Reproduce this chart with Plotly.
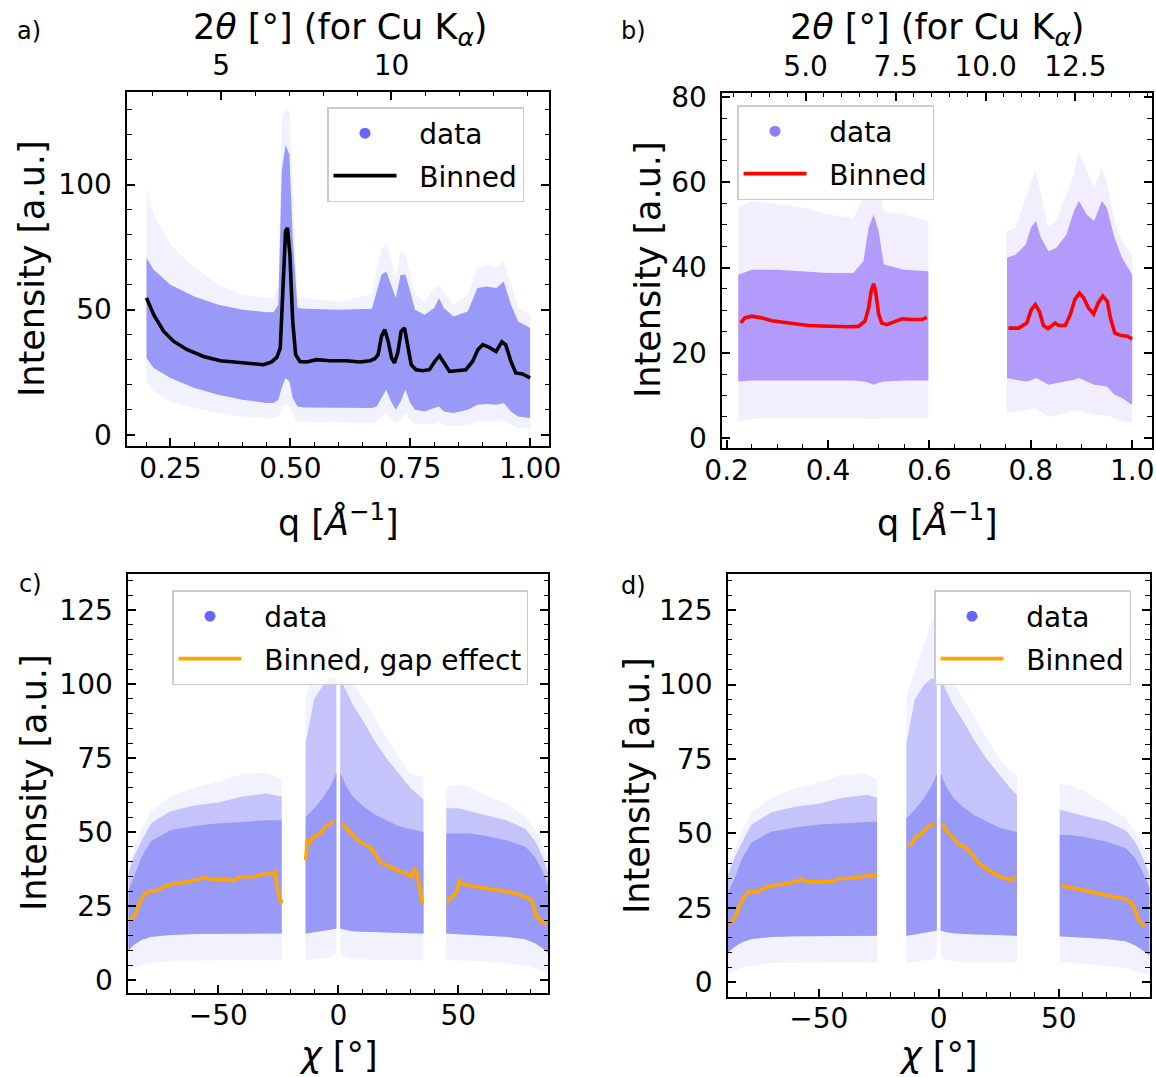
import numpy as np
import plotly.graph_objects as go

# ---------------- data ----------------
# Panel a: cloud envelopes
a_q = [0.200, 0.215, 0.25, 0.30, 0.35, 0.40, 0.45, 0.465, 0.475, 0.482, 0.490, 0.498, 0.505, 0.515, 0.53,
       0.60, 0.67, 0.68, 0.69, 0.70, 0.71, 0.72, 0.73, 0.74, 0.75, 0.76, 0.78, 0.80, 0.81, 0.82, 0.84,
       0.87, 0.89, 0.91, 0.93, 0.945, 0.96, 0.975, 1.0]
a_core_hi = [70.7, 66, 60, 55.3, 52, 50, 49, 49, 52, 105, 116, 112, 78.7, 50.7, 50.4, 50, 50.4, 57.3, 64,
             65.3, 60, 54.7, 64, 64, 57.3, 50, 48, 50.7, 54.7, 50.7, 47.3, 49.3, 58.7, 59.3, 58.7, 61.3,
             52, 45.3, 42.7]
a_halo_hi = [98.7, 88, 76, 66.7, 60, 56, 54.7, 54.7, 60, 125, 130.7, 129, 100, 54.7, 54.7, 53.3, 56, 66.7,
             74.7, 76, 70.7, 62.7, 73.3, 72, 64, 56, 53.3, 58.7, 60, 57.3, 52, 56, 66.7, 68, 66.7, 69.3,
             60, 50.7, 48]
a_core_lo = [30.7, 26.7, 22.7, 18.7, 16, 14, 12.7, 12.7, 14, 18.7, 22.7, 21.3, 14.7, 11.3, 10.9, 10.7,
             10.7, 11.3, 14.7, 18, 13.3, 10, 13.3, 18, 12.7, 10, 9.3, 10.7, 11.3, 9.3, 8.7, 10, 12, 12.3,
             12, 12.7, 9.3, 7.3, 6.7]
a_halo_lo = [21.3, 17.3, 13.3, 10.7, 8.7, 7.3, 6.7, 6.7, 7.3, 10.7, 12, 11.3, 8, 5.3, 5.3, 4.9, 4.7, 5.3,
             7.3, 8.7, 6.7, 4.7, 6, 8.7, 6, 4.3, 4, 4.7, 5.3, 4, 3.3, 4, 5.3, 5.6, 5.3, 6, 4, 2.7, 2.4]
# Panel a: binned curve
a_bin_q = [0.200, 0.215, 0.236, 0.257, 0.285, 0.319, 0.354, 0.389, 0.423, 0.444, 0.461, 0.472, 0.479,
           0.485, 0.490, 0.494, 0.499, 0.505, 0.511, 0.520, 0.534, 0.555, 0.582, 0.617, 0.645, 0.666,
           0.676, 0.683, 0.690, 0.697, 0.704, 0.711, 0.717, 0.724, 0.731, 0.738, 0.745, 0.752, 0.762,
           0.776, 0.790, 0.801, 0.811, 0.821, 0.832, 0.846, 0.866, 0.880, 0.891, 0.901, 0.915, 0.929,
           0.941, 0.949, 0.960, 0.970, 0.984, 1.000]
a_bin_I = [54.7, 48, 41.3, 37.3, 34, 31.3, 29.6, 29.1, 28.3, 28, 29.1, 31, 34.7, 58.7, 81.3, 82.7, 72,
           45.3, 32, 29.3, 29.1, 30, 29.6, 29.6, 29.1, 29.6, 30.4, 32, 39.3, 42, 37.3, 30.7, 28.7, 32.7,
           41.3, 42.7, 36, 28, 26, 25.6, 26, 29.3, 31.6, 28.7, 25.3, 25.6, 26, 29.3, 34, 36, 34.9, 33.3,
           37.1, 36, 29.3, 24.7, 24.3, 22.7]

# Panel b: cloud envelopes (two detector segments)
b_q1 = [0.223, 0.25, 0.30, 0.35, 0.40, 0.45, 0.47, 0.48, 0.49, 0.50, 0.51, 0.55, 0.598]
b_core_hi1 = [38.3, 39.5, 39.5, 39.1, 38.7, 38.7, 41.5, 49.3, 52.4, 48.5, 40.7, 39.5, 39.1]
b_halo_hi1 = [54, 55.6, 54.8, 54, 52.4, 51.6, 56.3, 60.3, 61, 59.5, 53.2, 52.4, 50.9]
b_core_lo1 = [13.3, 13.5, 13.5, 13.5, 13.5, 13.5, 13.3, 13, 12.5, 13, 13.3, 13.5, 13.5]
b_halo_lo1 = [3.9, 4.5, 4.7, 4.7, 4.7, 4.7, 4.7, 4.5, 4.5, 4.5, 4.7, 4.7, 4.7]
b_q2 = [0.753, 0.77, 0.79, 0.80, 0.81, 0.82, 0.835, 0.85, 0.87, 0.885, 0.895, 0.91, 0.925, 0.94, 0.95,
        0.965, 0.98, 1.0]
b_core_hi2 = [42.3, 43, 45.4, 49.3, 50.9, 47, 43.8, 44.6, 47.7, 53.2, 55.6, 52.4, 50.9, 55.6, 54, 47,
              42.3, 38.3]
b_halo_hi2 = [48.5, 49.3, 56.3, 60.3, 62.6, 57.1, 49.3, 50.9, 57.1, 61.8, 67.3, 62.6, 58.7, 63.4, 60.3,
              50.9, 46.2, 43]
b_core_lo2 = [14.1, 13.7, 13.3, 13.5, 14.1, 13.5, 12.5, 12.8, 13.3, 13.7, 14.1, 13.3, 12.5, 12.3, 12.1,
              10.2, 9.4, 7.8]
b_halo_lo2 = [5.9, 6.2, 6.5, 6.8, 7, 6.3, 5.1, 5.3, 5.9, 6.3, 6.5, 5.9, 5.5, 5.5, 5.3, 4.7, 3.9, 3.5]
# Panel b: binned curve
b_bin_q1 = [0.228, 0.236, 0.249, 0.269, 0.289, 0.309, 0.335, 0.361, 0.388, 0.414, 0.440, 0.460, 0.473,
            0.480, 0.485, 0.490, 0.494, 0.500, 0.506, 0.516, 0.532, 0.546, 0.565, 0.585, 0.595]
b_bin_I1 = [27, 28.2, 28.6, 28.2, 27.5, 27.2, 26.8, 26.4, 26.3, 26.1, 26.1, 26.2, 27.4, 30.5, 34.4, 36.2,
            34.4, 29, 27, 26.6, 27.4, 28, 27.8, 27.8, 28.3]
b_bin_q2 = [0.756, 0.776, 0.792, 0.801, 0.809, 0.817, 0.825, 0.834, 0.842, 0.848, 0.855, 0.868, 0.878,
            0.887, 0.896, 0.904, 0.914, 0.924, 0.933, 0.942, 0.951, 0.957, 0.966, 0.977, 0.990, 1.000]
b_bin_I2 = [25.8, 25.8, 27, 30.1, 31.3, 29.7, 26.4, 25.7, 26.4, 27, 26.4, 26.4, 29, 32.5, 34, 32.9, 30.5,
            29.1, 31.7, 33.3, 32.1, 28.2, 24.6, 24.1, 23.9, 23.3]

# Panel c: cloud envelopes (four chi segments)
c_chi_L = [-87.5, -85, -82, -78, -70, -60, -50, -40, -30, -23.6]
c_core_hi_L = [30, 35, 41.6, 47, 50.6, 52, 53, 53.4, 54, 54]
c_mid_hi_L = [36, 42, 47, 53, 57, 59, 60, 62, 63, 62]
c_halo_hi_L = [38, 45, 51, 57, 62, 65, 67, 69.7, 70, 68]
c_core_lo_L = [10, 12, 13.5, 14.6, 15.2, 15.5, 15.7, 15.7, 15.7, 15.7]
c_halo_lo_L = [3, 4, 5, 5.6, 6.5, 6.7, 6.7, 6.7, 6.7, 6.7]
c_chi_CL = [-13.6, -10, -6, -3, -0.8]
c_core_hi_CL = [55, 58, 62, 66, 70]
c_mid_hi_CL = [80, 95, 100, 102, 102]
c_halo_hi_CL = [95.6, 104.6, 113.6, 121.5, 123.7]
c_core_lo_CL = [15.7, 16.2, 16.7, 17.1, 17.4]
c_halo_lo_CL = [6.7, 6.9, 7.2, 7.6, 9]
c_chi_CR = [0.8, 3, 6, 10, 15, 20, 25, 30, 35.5]
c_core_hi_CR = [70, 66, 62, 59, 56, 54, 52, 51, 50]
c_mid_hi_CR = [102, 98, 93, 88, 81, 75, 70, 65, 61]
c_halo_hi_CR = [121.5, 110, 101, 95.6, 88.9, 82.1, 75.4, 69.7, 68.6]
c_core_lo_CR = [17.4, 16.9, 16.5, 16.3, 16.1, 16, 15.9, 15.8, 15.7]
c_halo_lo_CR = [9, 7.6, 7.2, 6.9, 6.8, 6.7, 6.7, 6.7, 6.7]
c_chi_R = [45, 50, 55, 60, 70, 78, 82, 85, 87.5]
c_core_hi_R = [49.5, 49.5, 49.5, 48.9, 47.2, 45, 41.6, 37.1, 31.5]
c_mid_hi_R = [58, 58, 57, 56, 54, 51, 47, 42, 36]
c_halo_hi_R = [65.2, 66, 65.2, 63, 59.6, 55.1, 50.6, 46.1, 40.5]
c_core_lo_R = [15.7, 15.5, 15.2, 15, 14.6, 13.8, 12.4, 10.8, 9]
c_halo_lo_R = [6.7, 6.7, 6.5, 6.3, 5.6, 4.8, 3.9, 3, 2.2]
# Panel c: binned curve with gap effect
c_bin_chi1 = [-86.8, -84.7, -82.6, -80.6, -78.5, -75.7, -72.9, -68.75, -63.2, -57.6, -56.25, -52.1, -46.5,
              -43.75, -40.97, -35.4, -31.25, -27.8, -26.4, -25.4, -23.6]
c_bin_I1 = [20.2, 21.9, 26.4, 29.2, 30.1, 30.1, 31.5, 32.4, 33.2, 34, 34.6, 34, 34, 33.5, 34.9, 34.9, 35.8,
            35.8, 36.6, 30.4, 25.9]
c_bin_chi2 = [-13.6, -12.9, -11.5, -10.4, -9.0, -7.6, -6.0, -4.6, -3.2, -2.1]
c_bin_I2 = [40.5, 47.2, 46.7, 48.4, 48.9, 49.5, 51.2, 52.3, 52.9, 53.8]
c_bin_chi3 = [1.8, 3.5, 5.6, 7.6, 10.4, 13.2, 15.3, 17.4, 20.1, 22.9, 25.7, 28.5, 30.6, 31.9, 32.9, 34.0, 35.1]
c_bin_I3 = [53.1, 51.2, 49.5, 47.5, 46.1, 44.8, 42.7, 39.9, 38.8, 37.7, 36.6, 36, 34.9, 37.7, 35.4, 30.4, 25.9]
c_bin_chi4 = [45.4, 47.2, 49.3, 50.4, 52.1, 56.25, 61.8, 67.4, 72.9, 77.1, 80.6, 82.6, 84.7, 86.5]
c_bin_I4 = [26.4, 28.1, 29.8, 33.5, 32.4, 31.7, 30.9, 30.1, 29.5, 28.3, 27, 21.4, 19.7, 18.6]

# Panel d: cloud envelopes
d_chi_L = [-87.8, -85, -82, -78, -70, -60, -50, -40, -30, -25.7]
d_core_hi_L = [30, 35, 41.6, 47, 50.6, 52, 53, 53.4, 54, 54]
d_mid_hi_L = [36, 42, 47, 53, 57, 59, 60, 62, 63, 62]
d_halo_hi_L = [38, 45, 51, 57, 62, 65, 67, 69.7, 70, 68]
d_core_lo_L = [10, 12, 13.5, 14.6, 15.2, 15.5, 15.7, 15.7, 15.7, 15.7]
d_halo_lo_L = [3, 4, 5, 5.6, 6.5, 6.7, 6.7, 6.7, 6.7, 6.7]
d_chi_CL = [-13.5, -10, -6, -3, -0.8]
d_core_hi_CL = [55, 58, 62, 66, 70]
d_mid_hi_CL = [80, 95, 100, 102, 102]
d_halo_hi_CL = [95.6, 104.6, 113.6, 121.5, 125]
d_core_lo_CL = [15.7, 16.2, 16.7, 17.1, 17.4]
d_halo_lo_CL = [6.7, 6.9, 7.2, 7.6, 9]
d_chi_CR = [0.8, 3, 6, 10, 15, 20, 25, 30, 32.6]
d_core_hi_CR = [70, 66, 62, 59, 56, 54, 52, 51, 50.5]
d_mid_hi_CR = [102, 98, 93, 88, 81, 75, 70, 65, 63]
d_halo_hi_CR = [125, 110, 101, 95.6, 88.9, 82.1, 75.4, 71, 70]
d_core_lo_CR = [17.4, 16.9, 16.5, 16.3, 16.1, 16, 15.9, 15.8, 15.7]
d_halo_lo_CR = [9, 7.6, 7.2, 6.9, 6.8, 6.7, 6.7, 6.7, 6.7]
d_chi_R = [50.4, 55, 60, 65, 70, 78, 82, 85, 87.8]
d_core_hi_R = [49.5, 49.5, 48.9, 48, 47.2, 45, 41.6, 37.1, 31.5]
d_mid_hi_R = [58, 57, 56, 55, 54, 51, 47, 42, 36]
d_halo_hi_R = [66.8, 66, 64.5, 62, 59.6, 55.1, 50.6, 46.1, 40]
d_core_lo_R = [15.5, 15.2, 15, 14.8, 14.6, 13.8, 12.4, 10.8, 9]
d_halo_lo_R = [6.7, 6.5, 6.3, 6, 5.6, 4.8, 3.9, 3, 2.2]
# Panel d: binned curve
d_bin_chi1 = [-87.2, -84.7, -82.6, -80.6, -79.2, -75.7, -72.2, -68.1, -62.5, -56.9, -54.9, -48.6, -43.1,
              -41.7, -37.5, -31.9, -27.8, -25.7]
d_bin_I1 = [19.8, 22, 26.5, 29.3, 30.4, 30.4, 31.9, 32.7, 33.2, 34.6, 33.8, 33.8, 34.1, 34.9, 34.9, 35.7,
            36, 35.5]
d_bin_chi2 = [-13.2, -11.1, -9.7, -7.6, -6.25, -4.9, -3.1, -2.1]
d_bin_I2 = [46.1, 46.4, 48.9, 49.4, 50.6, 52.2, 52.8, 53.4]
d_bin_chi3 = [1.7, 3.5, 5.6, 8.3, 11.8, 14.6, 17.4, 20.8, 24.3, 27.8, 30.6, 31.9]
d_bin_I3 = [53.1, 50.6, 48.9, 46.4, 45, 42.2, 39.4, 37.7, 36, 34.9, 34.3, 35.7]
d_bin_chi4 = [51.1, 54.2, 59.7, 65.3, 70.8, 76.4, 79.9, 81.9, 83.3, 86.1]
d_bin_I4 = [32.7, 31.9, 31, 30.1, 29.3, 28.2, 27.1, 24.3, 20.9, 18.7]

# Top-axis tick labels (2theta, degrees, Cu K-alpha)
a_tth_major = [5, 10]
a_tth_minor = [3, 4, 6, 7, 8, 9, 11, 12, 13, 14]
b_tth_major = [5.0, 7.5, 10.0, 12.5]
b_tth_minor = [3.0, 3.5, 4.0, 4.5, 5.5, 6.0, 6.5, 7.0, 8.0, 8.5, 9.0, 9.5, 10.5, 11.0, 11.5, 12.0,
               13.0, 13.5, 14.0, 14.5]
LAMBDA_CU = 1.5406

# ---------------- helpers ----------------
W, H = 1156, 1077
FONT = "DejaVu Sans"
PAD = "\u00a0\u00a0"   # gap between legend symbol and label


def tth_to_q(t):
    return [4 * np.pi * np.sin(np.radians(v / 2.0)) / LAMBDA_CU for v in t]


def band(segments):
    X, Y = [], []
    for xs, hi, lo in segments:
        X += list(xs) + list(xs[::-1]) + [None]
        Y += list(hi) + list(lo[::-1]) + [None]
    return X, Y


def joined(*pairs):
    X, Y = [], []
    for xs, ys in pairs:
        X += list(xs) + [None]
        Y += list(ys) + [None]
    return X, Y


def fx(px):
    return px / W


def fy(py):
    return 1 - py / H


fig = go.Figure()


def add_band(segs, color, xa, ya):
    X, Y = band(segs)
    fig.add_trace(go.Scatter(x=X, y=Y, fill="toself", fillcolor=color, mode="lines",
                             line=dict(width=0, color=color), hoverinfo="skip",
                             showlegend=False, xaxis=xa, yaxis=ya))


CORE = "rgb(153,153,248)"
MID = "rgba(140,140,248,0.45)"
HALO = "rgba(130,130,250,0.10)"
B_CORE = "rgb(178,155,250)"
B_HALO = "rgba(160,135,250,0.14)"
DOT = "rgb(102,102,250)"
B_DOT = "rgb(145,125,250)"
LW = 3.6

# ---- panel a ----
add_band([(a_q, a_halo_hi, a_halo_lo)], HALO, "x", "y")
add_band([(a_q, a_core_hi, a_core_lo)], CORE, "x", "y")
fig.add_trace(go.Scatter(x=[None], y=[None], mode="markers", marker=dict(size=11, color=DOT),
                         name=PAD + "data", legend="legend", legendgroup="a1", xaxis="x", yaxis="y"))
fig.add_trace(go.Scatter(x=a_bin_q, y=a_bin_I, mode="lines", line=dict(color="black", width=LW),
                         name=PAD + "Binned", legend="legend", legendgroup="a2", xaxis="x", yaxis="y"))
fig.add_trace(go.Scatter(x=[None], y=[None], showlegend=False, xaxis="x5", yaxis="y"))

# ---- panel b ----
add_band([(b_q1, b_halo_hi1, b_halo_lo1), (b_q2, b_halo_hi2, b_halo_lo2)], B_HALO, "x2", "y2")
add_band([(b_q1, b_core_hi1, b_core_lo1), (b_q2, b_core_hi2, b_core_lo2)], B_CORE, "x2", "y2")
fig.add_trace(go.Scatter(x=[None], y=[None], mode="markers", marker=dict(size=11, color=B_DOT),
                         name=PAD + "data", legend="legend2", legendgroup="b1", xaxis="x2", yaxis="y2"))
bx, by = joined((b_bin_q1, b_bin_I1), (b_bin_q2, b_bin_I2))
fig.add_trace(go.Scatter(x=bx, y=by, mode="lines", line=dict(color="#ff0000", width=LW),
                         connectgaps=False, name=PAD + "Binned", legend="legend2", legendgroup="b2",
                         xaxis="x2", yaxis="y2"))
fig.add_trace(go.Scatter(x=[None], y=[None], showlegend=False, xaxis="x6", yaxis="y2"))

# ---- panel c ----
add_band([(c_chi_L, c_halo_hi_L, c_halo_lo_L), (c_chi_CL, c_halo_hi_CL, c_halo_lo_CL),
          (c_chi_CR, c_halo_hi_CR, c_halo_lo_CR), (c_chi_R, c_halo_hi_R, c_halo_lo_R)], HALO, "x3", "y3")
add_band([(c_chi_L, c_mid_hi_L, c_core_lo_L), (c_chi_CL, c_mid_hi_CL, c_core_lo_CL),
          (c_chi_CR, c_mid_hi_CR, c_core_lo_CR), (c_chi_R, c_mid_hi_R, c_core_lo_R)], MID, "x3", "y3")
add_band([(c_chi_L, c_core_hi_L, c_core_lo_L), (c_chi_CL, c_core_hi_CL, c_core_lo_CL),
          (c_chi_CR, c_core_hi_CR, c_core_lo_CR), (c_chi_R, c_core_hi_R, c_core_lo_R)], CORE, "x3", "y3")
fig.add_trace(go.Scatter(x=[None], y=[None], mode="markers", marker=dict(size=11, color=DOT),
                         name=PAD + "data", legend="legend3", legendgroup="c1", xaxis="x3", yaxis="y3"))
cx, cy = joined((c_bin_chi1, c_bin_I1), (c_bin_chi2, c_bin_I2), (c_bin_chi3, c_bin_I3), (c_bin_chi4, c_bin_I4))
fig.add_trace(go.Scatter(x=cx, y=cy, mode="lines", line=dict(color="#ffa500", width=LW),
                         connectgaps=False, name=PAD + "Binned, gap effect", legend="legend3",
                         legendgroup="c2", xaxis="x3", yaxis="y3"))

# ---- panel d ----
add_band([(d_chi_L, d_halo_hi_L, d_halo_lo_L), (d_chi_CL, d_halo_hi_CL, d_halo_lo_CL),
          (d_chi_CR, d_halo_hi_CR, d_halo_lo_CR), (d_chi_R, d_halo_hi_R, d_halo_lo_R)], HALO, "x4", "y4")
add_band([(d_chi_L, d_mid_hi_L, d_core_lo_L), (d_chi_CL, d_mid_hi_CL, d_core_lo_CL),
          (d_chi_CR, d_mid_hi_CR, d_core_lo_CR), (d_chi_R, d_mid_hi_R, d_core_lo_R)], MID, "x4", "y4")
add_band([(d_chi_L, d_core_hi_L, d_core_lo_L), (d_chi_CL, d_core_hi_CL, d_core_lo_CL),
          (d_chi_CR, d_core_hi_CR, d_core_lo_CR), (d_chi_R, d_core_hi_R, d_core_lo_R)], CORE, "x4", "y4")
fig.add_trace(go.Scatter(x=[None], y=[None], mode="markers", marker=dict(size=11, color=DOT),
                         name=PAD + "data", legend="legend4", legendgroup="d1", xaxis="x4", yaxis="y4"))
dx, dy = joined((d_bin_chi1, d_bin_I1), (d_bin_chi2, d_bin_I2), (d_bin_chi3, d_bin_I3), (d_bin_chi4, d_bin_I4))
fig.add_trace(go.Scatter(x=dx, y=dy, mode="lines", line=dict(color="#ffa500", width=LW),
                         connectgaps=False, name=PAD + "Binned", legend="legend4", legendgroup="d2",
                         xaxis="x4", yaxis="y4"))

# ---------------- axes ----------------
TICKFONT = dict(family=FONT, size=28, color="black")


def ax(**kw):
    base = dict(showline=True, linecolor="black", linewidth=1.8, ticks="inside", ticklen=8,
                tickwidth=1.5, tickcolor="black", tickfont=TICKFONT, showgrid=False, zeroline=False,
                fixedrange=True, automargin=False)
    base.update(kw)
    return base


def minor(**kw):
    m = dict(ticks="inside", ticklen=4.5, tickwidth=1.3, tickcolor="black", showgrid=False)
    m.update(kw)
    return m


a_dom_x = [fx(127.3), fx(549.3)]
b_dom_x = [fx(722.3), fx(1151.7)]
c_dom_x = [fx(128.3), fx(548.3)]
d_dom_x = [fx(728.0), fx(1149.7)]
a_rng = [0.16, 1.04]
b_rng = [0.1915, 1.0385]
XSTAND = -4

fig.update_layout(
    xaxis=ax(domain=a_dom_x, range=a_rng, anchor="y", tickmode="linear", tick0=0, dtick=0.25,
             tickformat=".2f", minor=minor(tickmode="linear", tick0=0, dtick=0.05), mirror=False,
             ticklabelstandoff=XSTAND),
    xaxis5=ax(overlaying="x", side="top", anchor="y", range=a_rng, tickmode="array",
              tickvals=tth_to_q(a_tth_major), ticktext=[str(v) for v in a_tth_major],
              minor=minor(tickmode="array", tickvals=tth_to_q(a_tth_minor)), ticklabelstandoff=4),
    yaxis=ax(domain=[fy(446), fy(92)], range=[-4.5, 137], anchor="x", tickmode="linear", tick0=0,
             dtick=50, minor=minor(tickmode="linear", tick0=0, dtick=10), mirror="ticks",
             ticklabelstandoff=8),
    xaxis2=ax(domain=b_dom_x, range=b_rng, anchor="y2", tickmode="linear", tick0=0, dtick=0.2,
              tickformat=".1f", minor=minor(tickmode="linear", tick0=0, dtick=0.05), mirror=False,
              ticklabelstandoff=XSTAND),
    xaxis6=ax(overlaying="x2", side="top", anchor="y2", range=b_rng, tickmode="array",
              tickvals=tth_to_q(b_tth_major), ticktext=["%.1f" % v for v in b_tth_major],
              minor=minor(tickmode="array", tickvals=tth_to_q(b_tth_minor)), ticklabelstandoff=4),
    yaxis2=ax(domain=[fy(448), fy(93)], range=[-2.3, 80.9], anchor="x2", tickmode="linear", tick0=0,
              dtick=20, minor=minor(tickmode="linear", tick0=0, dtick=5), mirror="ticks",
              ticklabelstandoff=8),
    xaxis3=ax(domain=c_dom_x, range=[-87.5, 87.5], anchor="y3", tickmode="linear", tick0=0, dtick=50,
              minor=minor(tickmode="linear", tick0=0, dtick=10), mirror=True, ticklabelstandoff=XSTAND),
    yaxis3=ax(domain=[fy(993), fy(574)], range=[-4.4, 137.2], anchor="x3", tickmode="linear", tick0=0,
              dtick=25, minor=minor(tickmode="linear", tick0=0, dtick=5), mirror="ticks",
              ticklabelstandoff=8),
    xaxis4=ax(domain=d_dom_x, range=[-87.8, 87.9], anchor="y4", tickmode="linear", tick0=0, dtick=50,
              minor=minor(tickmode="linear", tick0=0, dtick=10), mirror=True, ticklabelstandoff=XSTAND),
    yaxis4=ax(domain=[fy(996.7), fy(574)], range=[-4.8, 137.1], anchor="x4", tickmode="linear", tick0=0,
              dtick=25, minor=minor(tickmode="linear", tick0=0, dtick=5), mirror="ticks",
              ticklabelstandoff=8),
)

# ---------------- legends ----------------
LEG = dict(bgcolor="rgba(255,255,255,0.8)", bordercolor="#cccccc", borderwidth=1.5,
           font=dict(family=FONT, size=28, color="black"), itemwidth=63, yanchor="top",
           tracegroupgap=3, traceorder="grouped", xanchor="left")
fig.update_layout(
    legend=dict(LEG, x=fx(327), y=fy(107)),
    legend2=dict(LEG, x=fx(737), y=fy(105)),
    legend3=dict(LEG, x=fx(172), y=fy(590)),
    legend4=dict(LEG, x=fx(934), y=fy(590)),
)

# ---------------- text ----------------
ann = []


def txt(x, y, s, size=35, angle=0):
    ann.append(dict(x=fx(x), y=fy(y), xref="paper", yref="paper", text=s, showarrow=False,
                    xanchor="center", yanchor="middle", textangle=angle,
                    font=dict(family=FONT, size=size, color="black")))


QLAB = "q [<i>Å</i><sup>−1</sup>]"
TTLAB = "2<i>θ</i> [°] (for Cu K<sub><span style='font-size:25px'><i>α</i></span></sub>)"
YLAB = "Intensity [a.u.]"
CHILAB = "<i>χ</i> [°]"
txt(29, 31, "a)", 24)
txt(633, 31, "b)", 24)
txt(30, 584, "c)", 24)
txt(633, 586, "d)", 24)
txt(32, 269, YLAB, angle=-90)
txt(648, 270, YLAB, angle=-90)
txt(34, 783, YLAB, angle=-90)
txt(637, 785, YLAB, angle=-90)
txt(338, 520, QLAB)
txt(937, 520, QLAB)
txt(340, 29, TTLAB)
txt(937, 29, TTLAB)
txt(338, 1055, CHILAB)
txt(938, 1055, CHILAB)

fig.update_layout(annotations=ann, width=W, height=H, autosize=False,
                  margin=dict(l=0, r=0, t=0, b=0), paper_bgcolor="white", plot_bgcolor="white",
                  font=dict(family=FONT, color="black"))

fig.write_html("out.html", config={"displayModeBar": False},
               post_script="document.body.style.margin='0';document.body.style.padding='0';")
